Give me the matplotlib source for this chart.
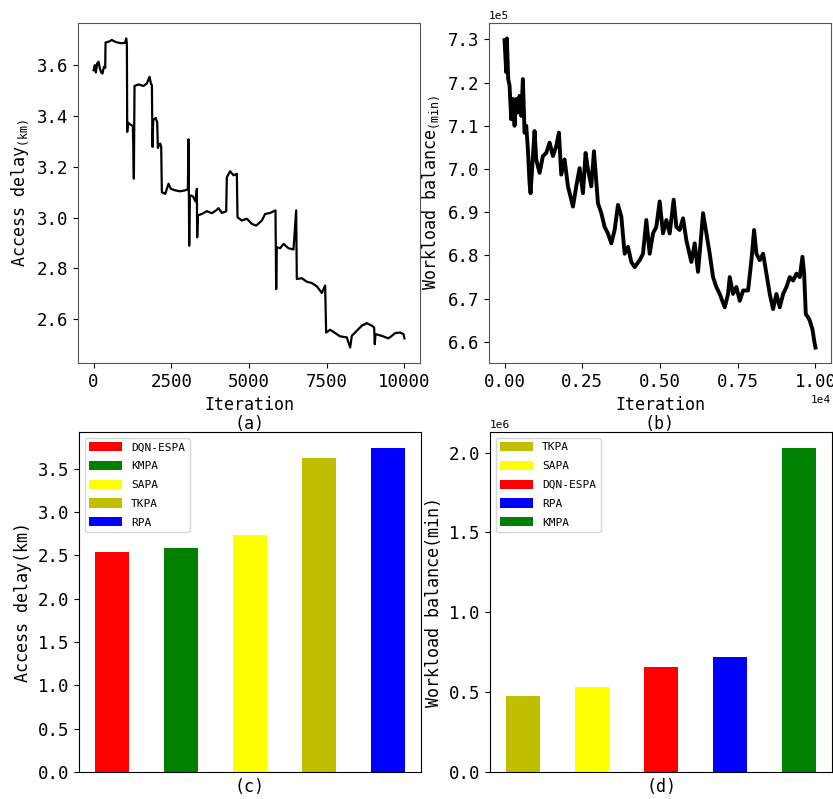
import numpy as np
import matplotlib
matplotlib.use("Agg")
import matplotlib.pyplot as plt

plt.rcParams["font.family"] = ["DejaVu Sans Mono", "DejaVu Sans"]
plt.rcParams["axes.unicode_minus"] = False

# ===== (a) access delay vs iteration =====
it_a = [0, 43, 75, 118, 161, 204, 247, 289, 332, 375, 386, 482, 589, 697, 804,
        911, 1018, 1050, 1072, 1083, 1104, 1179, 1265, 1297, 1318, 1447, 1608,
        1715, 1801, 1844, 1876, 1897, 1919, 2004, 2047, 2069, 2101, 2144, 2176,
        2197, 2304, 2412, 2487, 2626, 2787, 2947, 3033, 3055, 3076, 3098, 3194,
        3280, 3323, 3333, 3355, 3483, 3644, 3805, 3944, 4019, 4126, 4266, 4287,
        4394, 4502, 4609, 4630, 4770, 4931, 5091, 5230, 5413, 5520, 5681, 5852,
        5874, 5895, 6002, 6110, 6270, 6431, 6517, 6538, 6699, 6860, 7021, 7182,
        7342, 7449, 7481, 7610, 7771, 7931, 8146, 8253, 8307, 8467, 8628, 8789,
        8950, 9025, 9046, 9067, 9271, 9485, 9593, 9700, 9861, 9968, 10000]
delay_a = [3.580, 3.600, 3.571, 3.607, 3.613, 3.587, 3.571, 3.567, 3.593, 3.589,
           3.689, 3.692, 3.699, 3.692, 3.688, 3.686, 3.688, 3.705, 3.686, 3.337,
           3.374, 3.366, 3.361, 3.153, 3.518, 3.524, 3.518, 3.528, 3.554, 3.528,
           3.521, 3.278, 3.383, 3.392, 3.374, 3.274, 3.284, 3.291, 3.278, 3.100,
           3.093, 3.133, 3.113, 3.107, 3.103, 3.107, 3.111, 3.308, 2.889, 3.087,
           3.084, 3.063, 3.113, 2.922, 3.008, 3.014, 3.025, 3.017, 3.028, 3.037,
           3.018, 3.024, 3.159, 3.182, 3.166, 3.172, 3.001, 2.988, 2.995, 2.975,
           2.968, 2.988, 3.014, 3.018, 3.028, 2.718, 2.883, 2.879, 2.896, 2.879,
           2.874, 3.028, 2.758, 2.761, 2.747, 2.742, 2.729, 2.703, 2.732, 2.547,
           2.558, 2.545, 2.532, 2.528, 2.488, 2.534, 2.554, 2.574, 2.584, 2.574,
           2.567, 2.501, 2.541, 2.534, 2.524, 2.534, 2.545, 2.547, 2.541, 2.524]

# ===== (b) workload balance vs iteration (in units of 1e5 min) =====
it_b = [0, 54, 75, 118, 161, 215, 268, 322, 376, 429, 483, 537, 590, 644, 697,
        751, 805, 837, 891, 966, 1019, 1127, 1234, 1341, 1449, 1556, 1663, 1749,
        1824, 1931, 2039, 2146, 2200, 2307, 2414, 2522, 2607, 2683, 2790, 2876,
        3004, 3112, 3219, 3326, 3434, 3541, 3648, 3756, 3863, 3970, 4077, 4185,
        4346, 4453, 4560, 4668, 4775, 4882, 4989, 5097, 5204, 5311, 5440, 5526,
        5633, 5741, 5848, 6009, 6116, 6223, 6331, 6384, 6492, 6599, 6706, 6813,
        6921, 7082, 7189, 7243, 7350, 7457, 7565, 7672, 7833, 7940, 8026, 8101,
        8208, 8316, 8423, 8530, 8638, 8745, 8852, 8960, 9067, 9174, 9282, 9389,
        9496, 9582, 9636, 9689, 9764, 9818, 9904, 9979, 10000]
load_b = [7.298, 7.224, 7.302, 7.208, 7.193, 7.115, 7.162, 7.100, 7.162, 7.131,
          7.169, 7.123, 7.208, 7.084, 7.100, 7.045, 6.967, 6.944, 7.006, 7.088,
          7.022, 6.991, 7.030, 7.037, 7.061, 7.030, 7.053, 7.084, 6.987, 7.022,
          6.960, 6.929, 6.913, 6.960, 7.002, 6.944, 7.037, 6.999, 6.960, 7.041,
          6.921, 6.898, 6.866, 6.851, 6.828, 6.859, 6.917, 6.890, 6.804, 6.820,
          6.785, 6.773, 6.789, 6.804, 6.882, 6.804, 6.851, 6.866, 6.925, 6.851,
          6.882, 6.851, 6.929, 6.866, 6.859, 6.886, 6.835, 6.785, 6.828, 6.762,
          6.851, 6.898, 6.851, 6.804, 6.750, 6.727, 6.711, 6.680, 6.711, 6.750,
          6.711, 6.727, 6.695, 6.719, 6.719, 6.789, 6.859, 6.804, 6.789, 6.804,
          6.758, 6.711, 6.676, 6.711, 6.680, 6.711, 6.727, 6.750, 6.742, 6.758,
          6.750, 6.797, 6.758, 6.664, 6.657, 6.649, 6.629, 6.594, 6.587]

# ===== (c) access delay per algorithm =====
algs_c = ["DQN-ESPA", "KMPA", "SAPA", "TKPA", "RPA"]
delay_c = [2.537, 2.579, 2.730, 3.627, 3.736]
colors_c = ["red", "green", "yellow", "y", "blue"]

# ===== (d) workload balance per algorithm =====
algs_d = ["TKPA", "SAPA", "DQN-ESPA", "RPA", "KMPA"]
load_d = [0.477e6, 0.530e6, 0.655e6, 0.718e6, 2.027e6]
colors_d = ["y", "yellow", "red", "blue", "green"]

fig = plt.figure(figsize=(8.33, 7.99), dpi=100)
W, H = 833, 799


def box(l, t, r, b):
    return [l / W, 1 - b / H, (r - l) / W, (b - t) / H]


ax1 = fig.add_axes(box(78, 23, 420, 363))
ax2 = fig.add_axes(box(489, 23, 831, 363))
ax3 = fig.add_axes(box(79, 432, 421, 772))
ax4 = fig.add_axes(box(490, 432, 832, 772))

tick_fs = 12.5
lab_fs = 12

# (a)
ax1.plot(it_a, delay_a, color="black", linewidth=1.6)
ax1.set_xlabel("Iteration\n(a)", fontsize=lab_fs, linespacing=1.05)
ax1.set_ylabel(r"Access delay$\mathregular{_{(km)}}$", fontsize=lab_fs)
ax1.set_xticks([0, 2500, 5000, 7500, 10000])
ax1.set_yticks([2.6, 2.8, 3.0, 3.2, 3.4, 3.6])

# (b)
ax2.plot(it_b, np.array(load_b) * 1e5, color="black", linewidth=2.8)
ax2.set_xlabel("Iteration\n(b)", fontsize=lab_fs, linespacing=1.05)
ax2.set_ylabel(r"Workload balance$\mathregular{_{(min)}}$", fontsize=lab_fs)
ax2.set_xticks([0, 2500, 5000, 7500, 10000])
ax2.ticklabel_format(style="sci", scilimits=(0, 0), useOffset=False)
ax2.xaxis.get_offset_text().set_fontsize(8)
ax2.yaxis.get_offset_text().set_fontsize(8)

for ax in (ax1, ax2):
    for sp in ax.spines.values():
        sp.set_color("#555555")

# (c)
for i, (a, v, c) in enumerate(zip(algs_c, delay_c, colors_c)):
    ax3.bar(i, v, width=0.5, color=c, label=a)
ax3.set_xticks([])
ax3.set_xlabel("(c)", fontsize=lab_fs)
ax3.set_ylabel("Access delay(km)", fontsize=lab_fs)
ax3.legend(loc="upper left", fontsize=8, handlelength=3.0, handleheight=0.9,
           labelspacing=0.75)

# (d)
for i, (a, v, c) in enumerate(zip(algs_d, load_d, colors_d)):
    ax4.bar(i, v, width=0.5, color=c, label=a)
ax4.set_xticks([])
ax4.set_yticks([0, 0.5e6, 1.0e6, 1.5e6, 2.0e6])
ax4.set_xlabel("(d)", fontsize=lab_fs)
ax4.set_ylabel("Workload balance(min)", fontsize=lab_fs)
ax4.ticklabel_format(axis="y", style="sci", scilimits=(0, 0), useOffset=False)
ax4.yaxis.get_offset_text().set_fontsize(8)
ax4.legend(loc="upper left", fontsize=8, handlelength=3.0, handleheight=0.9,
           labelspacing=0.75)

for ax in (ax1, ax2, ax3, ax4):
    ax.tick_params(labelsize=tick_fs)

fig.savefig("out.png", dpi=100)
